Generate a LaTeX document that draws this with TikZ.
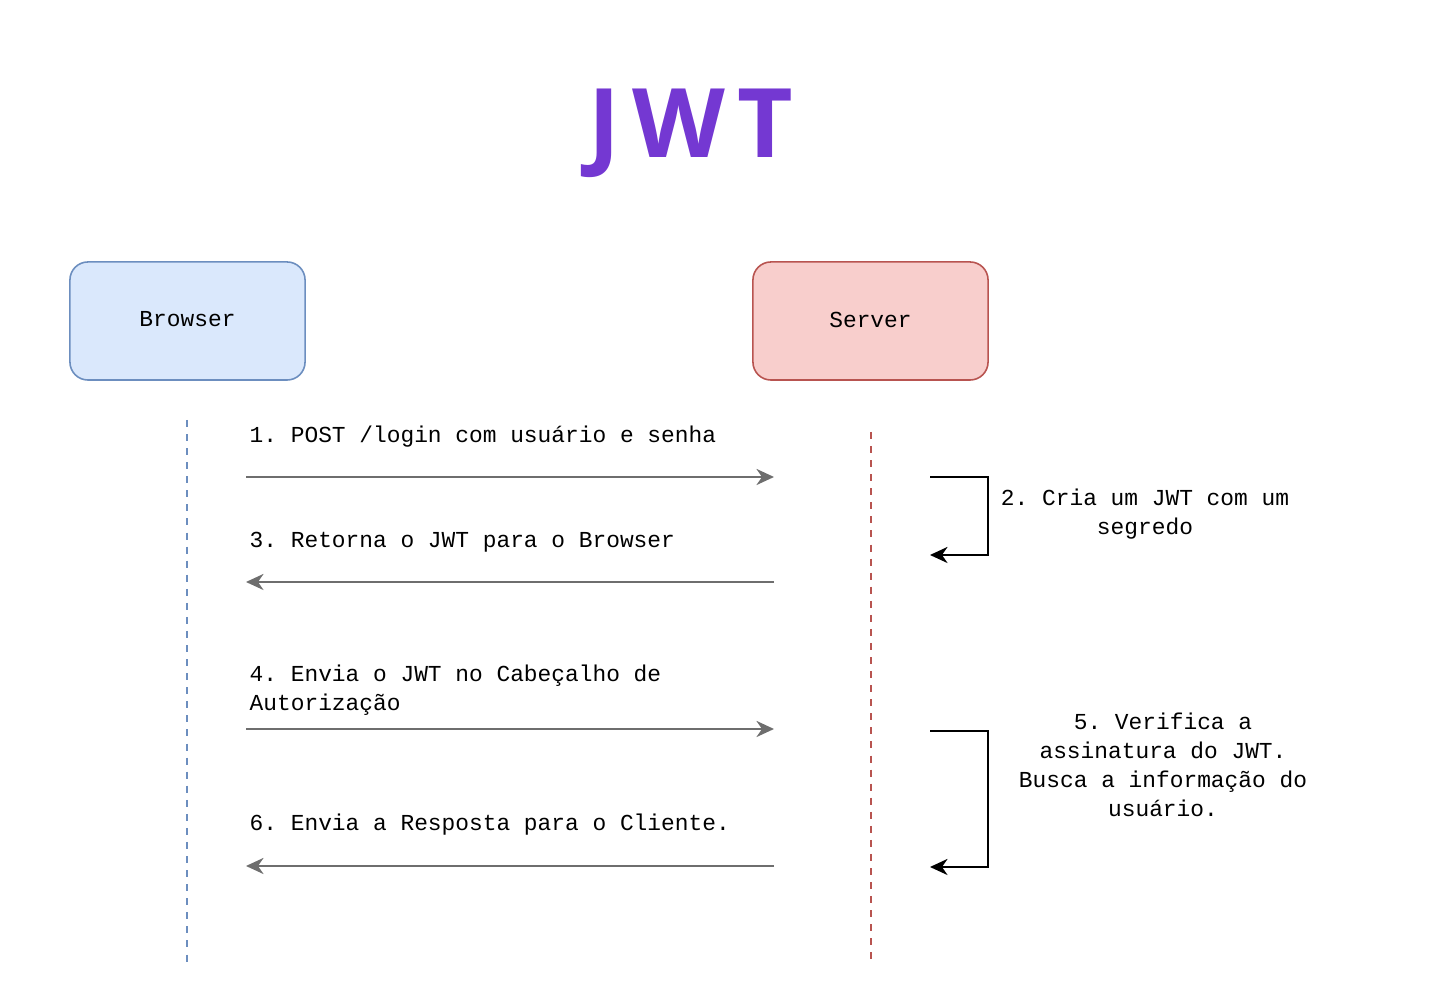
\documentclass[tikz,border=0pt]{standalone}
\usepackage{fontspec}
\setmonofont{Liberation Mono}
\newfontfamily\jwttitle{Open Sans}[LetterSpace=13]
\usetikzlibrary{arrows.meta}
\definecolor{jwt@purple}{RGB}{116,56,210}
\definecolor{jwt@blue}{RGB}{218,232,252}
\definecolor{jwt@blueline}{RGB}{108,142,191}
\definecolor{jwt@red}{RGB}{248,206,204}
\definecolor{jwt@redline}{RGB}{184,84,80}
\definecolor{jwt@gray}{RGB}{110,110,110}

\tikzset{
  actor/.style={rounded corners=0.18cm, line width=0.45pt,
    minimum width=2.35cm, minimum height=1.18cm,
    font=\ttfamily\fontsize{6.5}{8.25}\selectfont},
  msgtext/.style={inner sep=0pt, align=left,
    font=\ttfamily\fontsize{6.5}{8.25}\selectfont},
  notetext/.style={inner sep=0pt, align=center,
    font=\ttfamily\fontsize{6.5}{8.25}\selectfont},
  lifeline/.style={dashed, line width=0.35pt, dash pattern=on 2pt off 2pt},
  msg/.style={-{Stealth[length=5pt,width=4.6pt,inset=1.6pt]},
    jwt@gray, line width=0.5pt},
  selfmsg/.style={-{Stealth[length=5pt,width=4.6pt,inset=1.6pt]},
    black, line width=0.5pt},
}

\begin{document}
\begin{tikzpicture}[x=0.01cm,y=-0.01cm]
\useasboundingbox (0,0) rectangle (1453,1007);

% title
\node[text=jwt@purple, font=\jwttitle\bfseries\fontsize{27.3}{30}\selectfont,
  anchor=base] (title) at (691,158) {JWT};

% Browser
\node[actor, fill=jwt@blue, draw=jwt@blueline] (browser) at (187.5,321) {\raisebox{0.9pt}{Browser}};
\coordinate (browsertop) at (187,420);
\coordinate (browserend) at (187,965);
\draw[lifeline, jwt@blueline] (browsertop) -- (browserend);

% Server
\node[actor, fill=jwt@red, draw=jwt@redline] (server) at (870.5,321) {\raisebox{0.9pt}{Server}};
\coordinate (servertop) at (871,432);
\coordinate (serverend) at (871,965);
\draw[lifeline, jwt@redline] (servertop) -- (serverend);

% 1. login
\node[msgtext, anchor=west] (login) at (249,437) {1. POST /login com usuário e senha};
\coordinate (loginfrom) at (246,477);
\coordinate (loginto) at (774,477);
\draw[msg] (loginfrom) -- (loginto);

% 2. create token
\coordinate (createin) at (930,477);
\coordinate (createout) at (930,555);
\draw[selfmsg] (createin) -- ++(58,0) |- (createout);
\node[notetext] (create) at (1145,514) {2. Cria um JWT com um\\segredo};

% 3. return token
\node[msgtext, anchor=west] (token) at (249,542) {3. Retorna o JWT para o Browser};
\coordinate (tokenfrom) at (774,582);
\coordinate (tokento) at (246,582);
\draw[msg] (tokenfrom) -- (tokento);

% 4. send header
\node[msgtext, anchor=west] (header) at (249,690) {4. Envia o JWT no Cabeçalho de\\Autorização};
\coordinate (headerfrom) at (246,729);
\coordinate (headerto) at (774,729);
\draw[msg] (headerfrom) -- (headerto);

% 5. verify
\coordinate (verifyin) at (930,731);
\coordinate (verifyout) at (930,867);
\draw[selfmsg] (verifyin) -- ++(58,0) |- (verifyout);
\node[notetext] (verify) at (1163,765) {5. Verifica a\\assinatura do JWT.\\Busca a informação do\\usuário.};

% 6. response
\node[msgtext, anchor=west] (answer) at (249,825) {6. Envia a Resposta para o Cliente.};
\coordinate (answerfrom) at (774,866);
\coordinate (answerto) at (246,866);
\draw[msg] (answerfrom) -- (answerto);

\end{tikzpicture}
\end{document}
